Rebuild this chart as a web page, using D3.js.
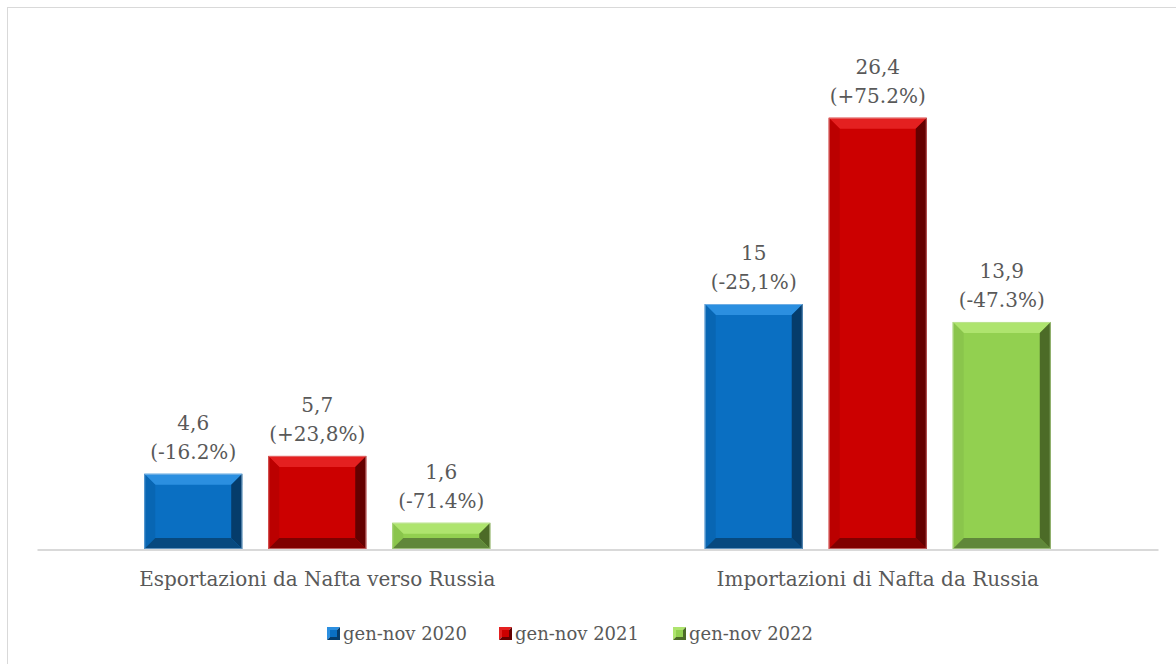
<!DOCTYPE html>
<html><head><meta charset="utf-8">
<script src="https://cdn.jsdelivr.net/npm/d3@7"></script>
<style>
html,body{margin:0;padding:0;background:#fff;}
svg{display:block;}
text{font-family:"DejaVu Serif",serif;fill:#595959;}
</style></head>
<body>
<svg id="chart" width="1176" height="664"></svg>
<script>
const categories = ["Esportazioni da Nafta verso Russia", "Importazioni di Nafta da Russia"];
const seriesNames = ["gen-nov 2020", "gen-nov 2021", "gen-nov 2022"];
const values2020 = [4.6, 15];
const values2021 = [5.7, 26.4];
const values2022 = [1.6, 13.9];
const labels2020 = ["(-16.2%)", "(-25,1%)"];
const labels2021 = ["(+23,8%)", "(+75.2%)"];
const labels2022 = ["(-71.4%)", "(-47.3%)"];
const valueText2020 = ["4,6", "15"];
const valueText2021 = ["5,7", "26,4"];
const valueText2022 = ["1,6", "13,9"];

const palettes = [
  {main:"#0a6fc2", top:"#2b8fe0", left:"#0866b3", right:"#053c6b", bottom:"#07497f", edge:"#9cc3e6"},
  {main:"#cc0000", top:"#e42020", left:"#bb0000", right:"#650000", bottom:"#800000", edge:"#e59a9a"},
  {main:"#92d050", top:"#aee46e", left:"#8ac54c", right:"#4c6b27", bottom:"#60873a", edge:"#c6e2a8"}
];

const series = [
  {name: seriesNames[0], values: values2020, pct: labels2020, vt: valueText2020},
  {name: seriesNames[1], values: values2021, pct: labels2021, vt: valueText2021},
  {name: seriesNames[2], values: values2022, pct: labels2022, vt: valueText2022}
];

const svg = d3.select("#chart");
svg.append("rect").attr("x",7.5).attr("y",7.5).attr("width",1180).attr("height",680)
  .attr("fill","none").attr("stroke","#d9d9d9").attr("stroke-width",1);

const x0 = d3.scaleBand().domain(categories).range([37, 1158]).padding(0);
const x1 = d3.scaleBand().domain(seriesNames).range([0, 346]).paddingInner(0.21).paddingOuter(0);
const y = d3.scaleLinear().domain([0, 30]).range([549, 59]);

const g = svg.append("g");
const bev = 11;

categories.forEach((cat, ci) => {
  const gx = x0(cat) + (x0.bandwidth() - 346) / 2;
  series.forEach((s, si) => {
    const p = palettes[si];
    const xl = gx + x1(s.name), xr = xl + x1.bandwidth();
    const yt = y(s.values[ci]), yb = y(0);
    const b = Math.min(bev, (yb - yt) / 2, (xr - xl) / 2);
    const bg = g.append("g");
    bg.append("rect").attr("x", xl).attr("y", yt).attr("width", xr - xl).attr("height", yb - yt).attr("fill", p.main);
    const poly = (pts, fill) => bg.append("polygon").attr("points", pts.map(q => q.join(",")).join(" ")).attr("fill", fill);
    poly([[xl,yt],[xr,yt],[xr-b,yt+b],[xl+b,yt+b]], p.top);
    poly([[xl,yt],[xl+b,yt+b],[xl+b,yb-b],[xl,yb]], p.left);
    poly([[xr,yt],[xr,yb],[xr-b,yb-b],[xr-b,yt+b]], p.right);
    poly([[xl,yb],[xl+b,yb-b],[xr-b,yb-b],[xr,yb]], p.bottom);
    bg.append("rect").attr("x", xl + 0.5).attr("y", yt + 0.5).attr("width", xr - xl - 1).attr("height", yb - yt - 1)
      .attr("fill","none").attr("stroke", p.edge).attr("stroke-width", 1).attr("stroke-opacity", 0.6);
    const cx = (xl + xr) / 2;
    g.append("text").attr("x", cx).attr("y", yt - 44).attr("text-anchor","middle").attr("font-size", 20).text(s.vt[ci]);
    g.append("text").attr("x", cx).attr("y", yt - 15).attr("text-anchor","middle").attr("font-size", 20).text(s.pct[ci]);
  });
});

const xAxis = d3.axisBottom(x0).tickSize(0).tickPadding(22);
const ax = svg.append("g").attr("transform","translate(0,549.5)").call(xAxis);
ax.select(".domain").attr("stroke","#d9d9d9").attr("stroke-width",2);
ax.selectAll("text").attr("font-size",20).style("font-family","'DejaVu Serif',serif").attr("fill","#595959");

const legendX = [327, 499, 673];
const lg = svg.append("g");
series.forEach((s, si) => {
  const p = palettes[si];
  const lx = legendX[si], ly = 627;
  lg.append("polygon").attr("points", `${lx},${ly} ${lx+13},${ly} ${lx},${ly+13}`).attr("fill", p.top);
  lg.append("polygon").attr("points", `${lx+13},${ly} ${lx+13},${ly+13} ${lx},${ly+13}`).attr("fill", p.right);
  lg.append("rect").attr("x", lx+3).attr("y", ly+3).attr("width",7).attr("height",7).attr("fill", p.main);
  lg.append("text").attr("x", lx + 16).attr("y", ly + 13).attr("font-size", 18).text(s.name);
});
</script>
</body></html>
